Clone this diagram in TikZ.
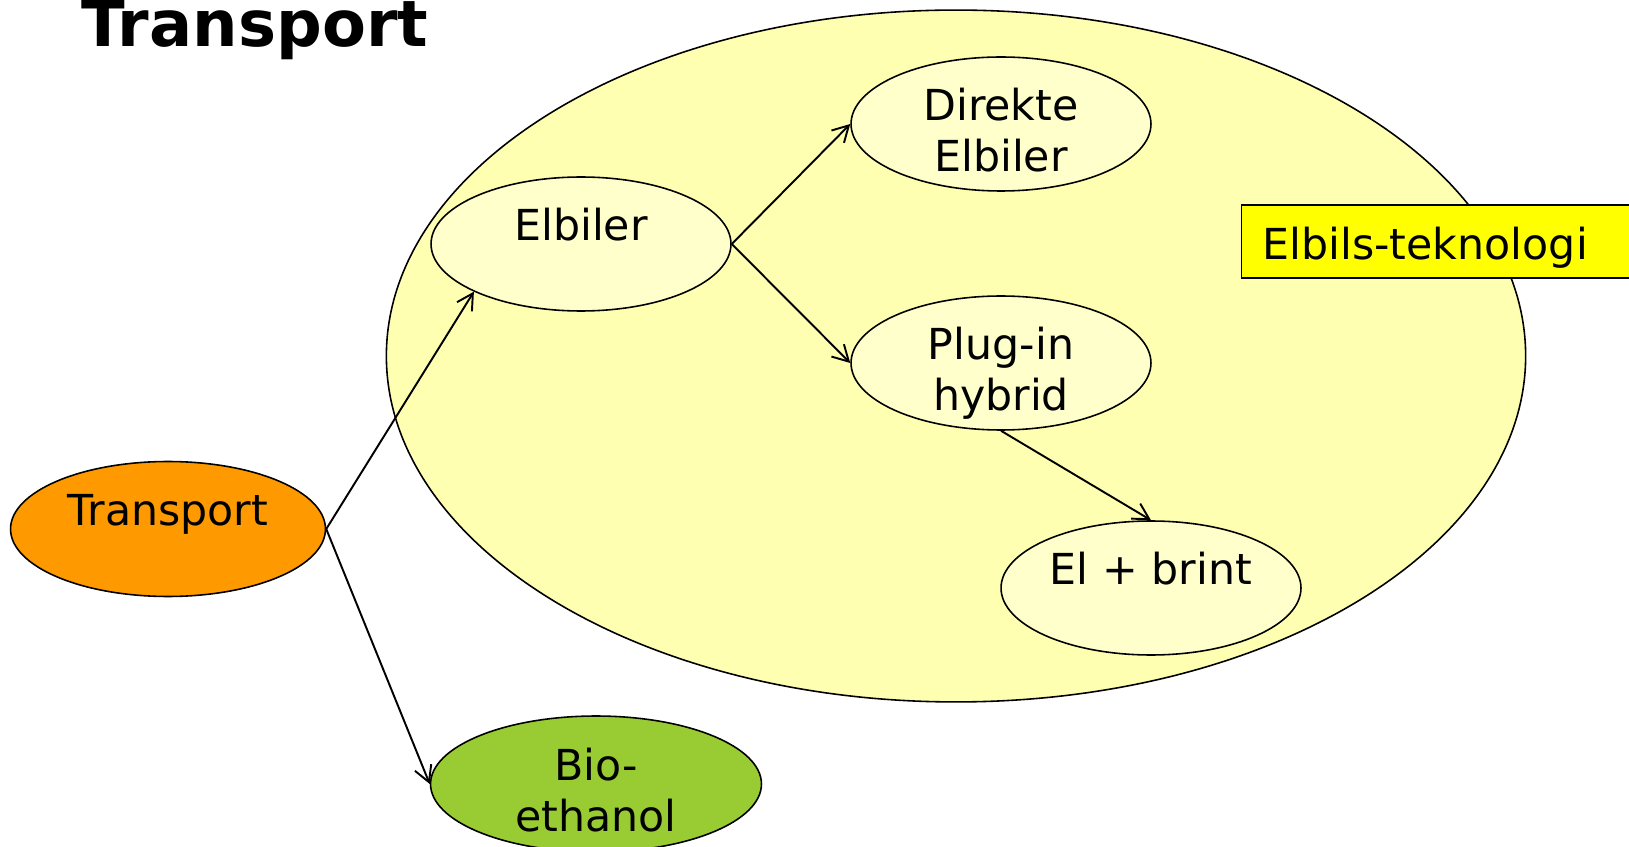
\documentclass[tikz,border=0pt]{standalone}
\usepackage{fontspec}
\setmainfont{DejaVu Sans}
\usetikzlibrary{shapes.geometric,arrows.meta}

\definecolor{regionfill}{RGB}{255,255,178}
\definecolor{bubblefill}{RGB}{255,255,204}
\definecolor{transportfill}{RGB}{255,153,0}
\definecolor{biofill}{RGB}{153,204,51}
\definecolor{tagfill}{RGB}{255,255,0}

\begin{document}
\begin{tikzpicture}[x=0.02cm,y=-0.02cm,
  bubble/.style={ellipse,draw,line width=0.9pt,fill=bubblefill,minimum width=6cm,minimum height=2.68cm,inner sep=0pt},
  txt/.style={align=center,inner sep=0pt,yshift=-3.5pt,font=\fontsize{24.3}{29}\selectfont,
    execute at begin node={\rule{0pt}{25pt}}},
  link/.style={line width=1.1pt,-{Straight Barb[length=9pt,width=10pt]}},
  tag/.style={draw,line width=0.7pt,fill=tagfill,inner xsep=0.42cm,text width=7.36cm,align=left,
    text height=22pt,text depth=1pt,minimum height=1.46cm,font=\fontsize{24.3}{29}\selectfont}
  ]
    \useasboundingbox (0,0) rectangle (1629,847);

    \node[anchor=base west,inner sep=0pt,font=\fontsize{36.4}{42}\selectfont\bfseries] (title) at (81,47) {Transport};

    % the yellow region
    \node[ellipse,draw,line width=0.9pt,fill=regionfill,minimum width=22.79cm,minimum height=13.84cm,inner sep=0pt] (region) at (956,356) {};

    \node[bubble,fill=transportfill,minimum width=6.3cm,minimum height=2.7cm] (transport) at (168,529) {};
    \node[bubble] (elbiler) at (581,244) {};
    \node[bubble] (direkte) at (1001,124) {};
    \node[bubble] (plugin) at (1001,363) {};
    \node[bubble] (elbrint) at (1151,588) {};
    \node[bubble,fill=biofill,minimum width=6.62cm,minimum height=2.72cm] (bio) at (596,784) {};

    \node[txt] (transport-txt) at (transport) {Transport\\ \mbox{}};
    \node[txt] (elbiler-txt) at (elbiler) {Elbiler\\ \mbox{}};
    \node[txt] (direkte-txt) at (direkte) {Direkte\\Elbiler};
    \node[txt] (plugin-txt) at (plugin) {Plug-in\\\smash{hybrid}};
    \node[txt] (elbrint-txt) at (elbrint) {El + brint\\ \mbox{}};
    \node[txt] (bio-txt) at (bio) {Bio-\\ethanol};

    \draw[link] (transport.east) -- (elbiler.204);
    \draw[link] (transport.east) -- (bio.west);
    \draw[link] (elbiler.east) -- (direkte.west);
    \draw[link] (elbiler.east) -- (plugin.west);
    \draw[link] (plugin.south) -- (elbrint.north);

    \node[tag,anchor=west] (teknologi) at (1241,241.5) {Elbils-teknologi};
\end{tikzpicture}
\end{document}
